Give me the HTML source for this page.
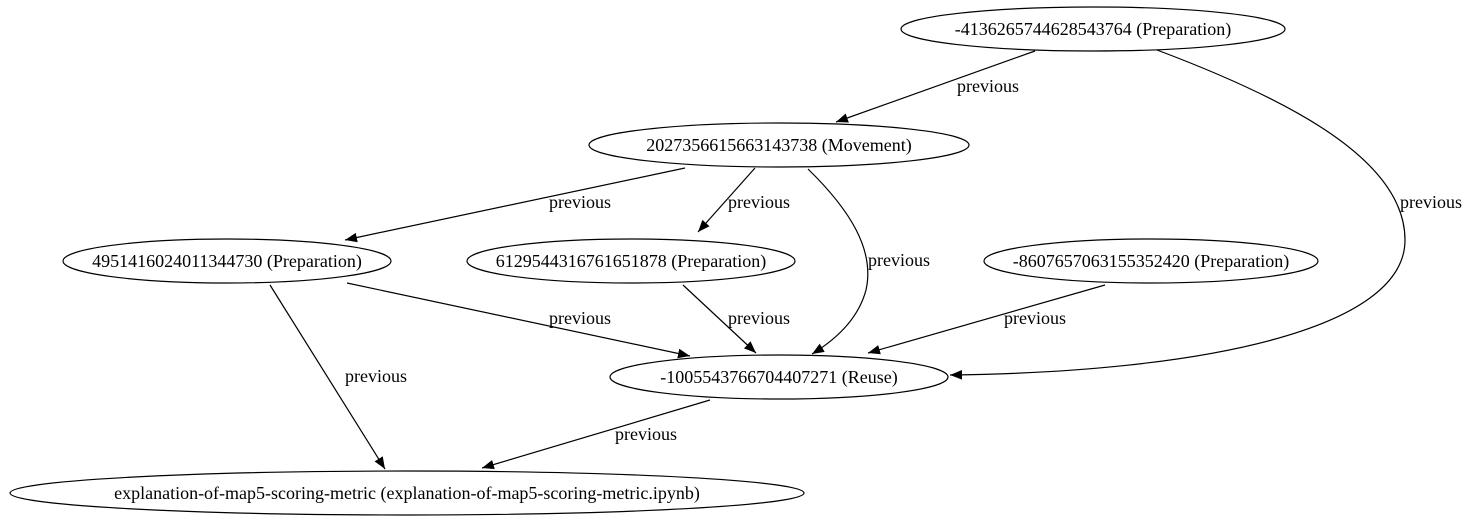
<!DOCTYPE html>
<html><head><meta charset="utf-8"><style>
html,body{margin:0;padding:0;background:#fff;}
svg{display:block;}
text{font-family:"Liberation Serif",serif;font-size:18px;fill:#000;}
</style></head><body>
<svg width="1468" height="523" viewBox="0 0 1468 523" xmlns="http://www.w3.org/2000/svg">
<defs>
<marker id="a" viewBox="0 0 10 10" refX="10" refY="5" markerWidth="12" markerHeight="12" markerUnits="userSpaceOnUse" orient="auto">
<path d="M0,1 L10,5 L0,9 z" fill="#000"/>
</marker>
</defs>
<g fill="none" stroke="#000" stroke-width="1.2">
<ellipse cx="1093" cy="29" rx="192" ry="22"/>
<ellipse cx="779" cy="145" rx="190" ry="22"/>
<ellipse cx="227" cy="261" rx="164" ry="22"/>
<ellipse cx="631" cy="261" rx="164" ry="22"/>
<ellipse cx="1151" cy="261" rx="167" ry="22"/>
<ellipse cx="779" cy="377" rx="169" ry="22"/>
<ellipse cx="407" cy="493" rx="397" ry="22"/>
</g>
<g fill="none" stroke="#000" stroke-width="1.2" marker-end="url(#a)">
<path d="M1035,51 L836,122"/>
<path d="M1157,50 C1290,100 1405,160 1405,240 C1405,330 1200,372 950,375"/>
<path d="M685,168 L345,240"/>
<path d="M755,168 L698,232"/>
<path d="M808,169 C850,210 875,250 866,290 C858,320 835,340 812,354"/>
<path d="M347,283 L690,356"/>
<path d="M683,285 L756,353"/>
<path d="M1105,285 L868,353"/>
<path d="M270,285 L385,469"/>
<path d="M710,400 L482,468"/>
</g>
<g text-anchor="middle">
<text x="1093" y="35">-4136265744628543764 (Preparation)</text>
<text x="779" y="151">2027356615663143738 (Movement)</text>
<text x="227" y="267">4951416024011344730 (Preparation)</text>
<text x="631" y="267">6129544316761651878 (Preparation)</text>
<text x="1151" y="267">-8607657063155352420 (Preparation)</text>
<text x="779" y="383">-1005543766704407271 (Reuse)</text>
<text x="407" y="499">explanation-of-map5-scoring-metric (explanation-of-map5-scoring-metric.ipynb)</text>
<text x="988" y="92">previous</text>
<text x="1431" y="208">previous</text>
<text x="580" y="208">previous</text>
<text x="759" y="208">previous</text>
<text x="899" y="266">previous</text>
<text x="580" y="324">previous</text>
<text x="759" y="324">previous</text>
<text x="1035" y="324">previous</text>
<text x="376" y="382">previous</text>
<text x="646" y="440">previous</text>
</g>
</svg>
</body></html>
